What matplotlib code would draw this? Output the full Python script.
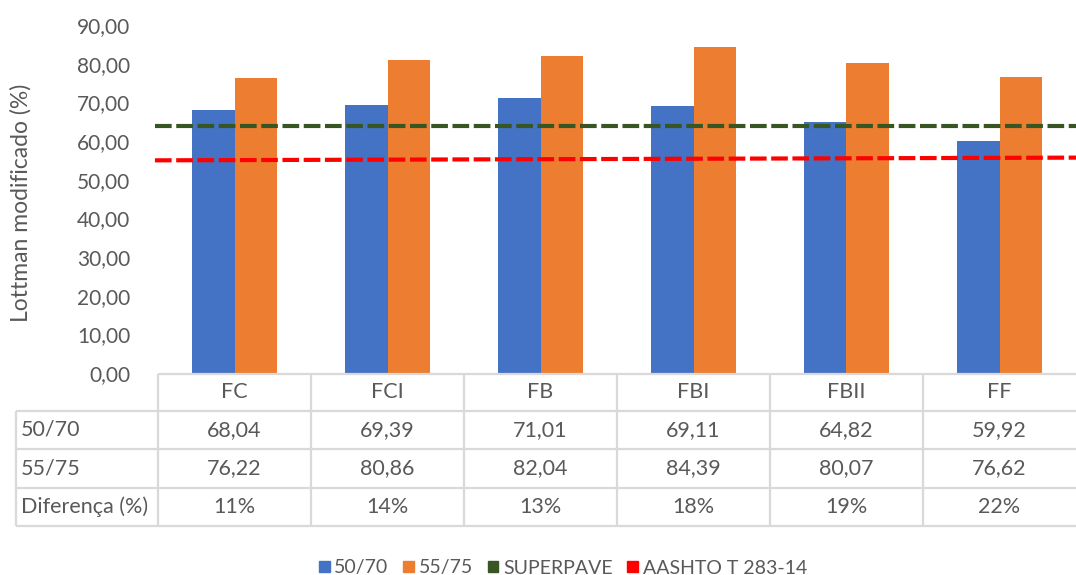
import matplotlib.pyplot as plt
import numpy as np
from matplotlib.patches import Patch

# data
categories = ["FC", "FCI", "FB", "FBI", "FBII", "FF"]
lottman_5070 = [68.04, 69.39, 71.01, 69.11, 64.82, 59.92]
lottman_5575 = [76.22, 80.86, 82.04, 84.39, 80.07, 76.62]
diferenca = ["11%", "14%", "13%", "18%", "19%", "22%"]
superpave = [64.0, 64.0]
aashto = [55.0, 55.7]
row_labels = ["50/70", "55/75", "Diferença (%)"]

BLUE = "#4472C4"
ORANGE = "#ED7D31"
GREEN = "#375623"
RED = "#FF0000"
TXT = "#595959"
GRID = "#D9D9D9"

plt.rcParams.update({
    "font.family": ["Lato", "DejaVu Sans"],
    "font.size": 15,
})

W, H = 1076, 575
fig = plt.figure(figsize=(W / 100, H / 100), dpi=100)

# main bar axes (pixel layout of the reference)
left, right, top, bottom = 158, 1076, 25, 373
ax = fig.add_axes([left / W, 1 - bottom / H, (right - left) / W, (bottom - top) / H])

x = np.arange(len(categories))
bw = 0.28
ax.bar(x - bw / 2, lottman_5070, bw, color=BLUE, zorder=2)
ax.bar(x + bw / 2, lottman_5575, bw, color=ORANGE, zorder=2)

xs = [-0.52, len(categories) - 0.5]
ax.plot(xs, superpave, color=GREEN, lw=3, ls=(0, (4, 1.1)), zorder=3, clip_on=False)
ax.plot(xs, aashto, color=RED, lw=3, ls=(0, (4, 1.1)), zorder=3, clip_on=False)

ax.set_xlim(-0.5, len(categories) - 0.5)
ax.set_ylim(0, 90)
ax.set_yticks(np.arange(0, 91, 10))
ax.set_yticklabels([f"{v:.2f}".replace(".", ",") for v in np.arange(0, 91, 10)],
                   color=TXT, fontsize=15)
ax.tick_params(axis="y", length=0, pad=20)
ax.set_xticks([])
for s in ax.spines.values():
    s.set_visible(False)
ax.set_ylabel("Lottman modificado (%)", color=TXT, fontsize=16.5)
ax.yaxis.set_label_coords(-0.138, 0.49)

# data table below the plot
tax = fig.add_axes([0, 0, 1, 1])
tax.set_xlim(0, W)
tax.set_ylim(H, 0)
tax.axis("off")

col_w = (right - left) / len(categories)
col_x = [left + i * col_w for i in range(len(categories) + 1)]
row_y = [374, 411, 449, 488, 526]
lab_x = 16
lk = dict(color=GRID, lw=1.6, solid_capstyle="butt")

tax.plot([left, right], [row_y[0], row_y[0]], **lk)
for y in row_y[1:]:
    tax.plot([lab_x, right], [y, y], **lk)
for cx in col_x[:-1]:
    tax.plot([cx, cx], [row_y[0], row_y[-1]], **lk)
tax.plot([lab_x, lab_x], [row_y[1], row_y[-1]], **lk)

rows = [
    [f"{v:.2f}".replace(".", ",") for v in lottman_5070],
    [f"{v:.2f}".replace(".", ",") for v in lottman_5575],
    diferenca,
]
fs = 15.5
for i, c in enumerate(categories):
    cx = (col_x[i] + col_x[i + 1]) / 2
    tax.text(cx, (row_y[0] + row_y[1]) / 2, c, ha="center", va="center", color=TXT, fontsize=fs)
    for r, vals in enumerate(rows):
        yc = (row_y[r + 1] + row_y[r + 2]) / 2
        tax.text(cx, yc, vals[i], ha="center", va="center", color=TXT, fontsize=fs)
for r, lab in enumerate(row_labels):
    yc = (row_y[r + 1] + row_y[r + 2]) / 2
    tax.text(lab_x + 5, yc, lab, ha="left", va="center", color=TXT, fontsize=fs)

handles = [Patch(color=BLUE), Patch(color=ORANGE), Patch(color=GREEN), Patch(color=RED)]
labels = ["50/70", "55/75", "SUPERPAVE", "AASHTO T 283-14"]
fig.legend(handles, labels, loc="center", bbox_to_anchor=(563 / W, 1 - 568 / H),
           ncol=4, frameon=False, fontsize=14, handlelength=0.55, handleheight=0.55,
           handletextpad=0.25, columnspacing=0.75, labelcolor=TXT)

fig.savefig("out.png", dpi=100, facecolor="white")
